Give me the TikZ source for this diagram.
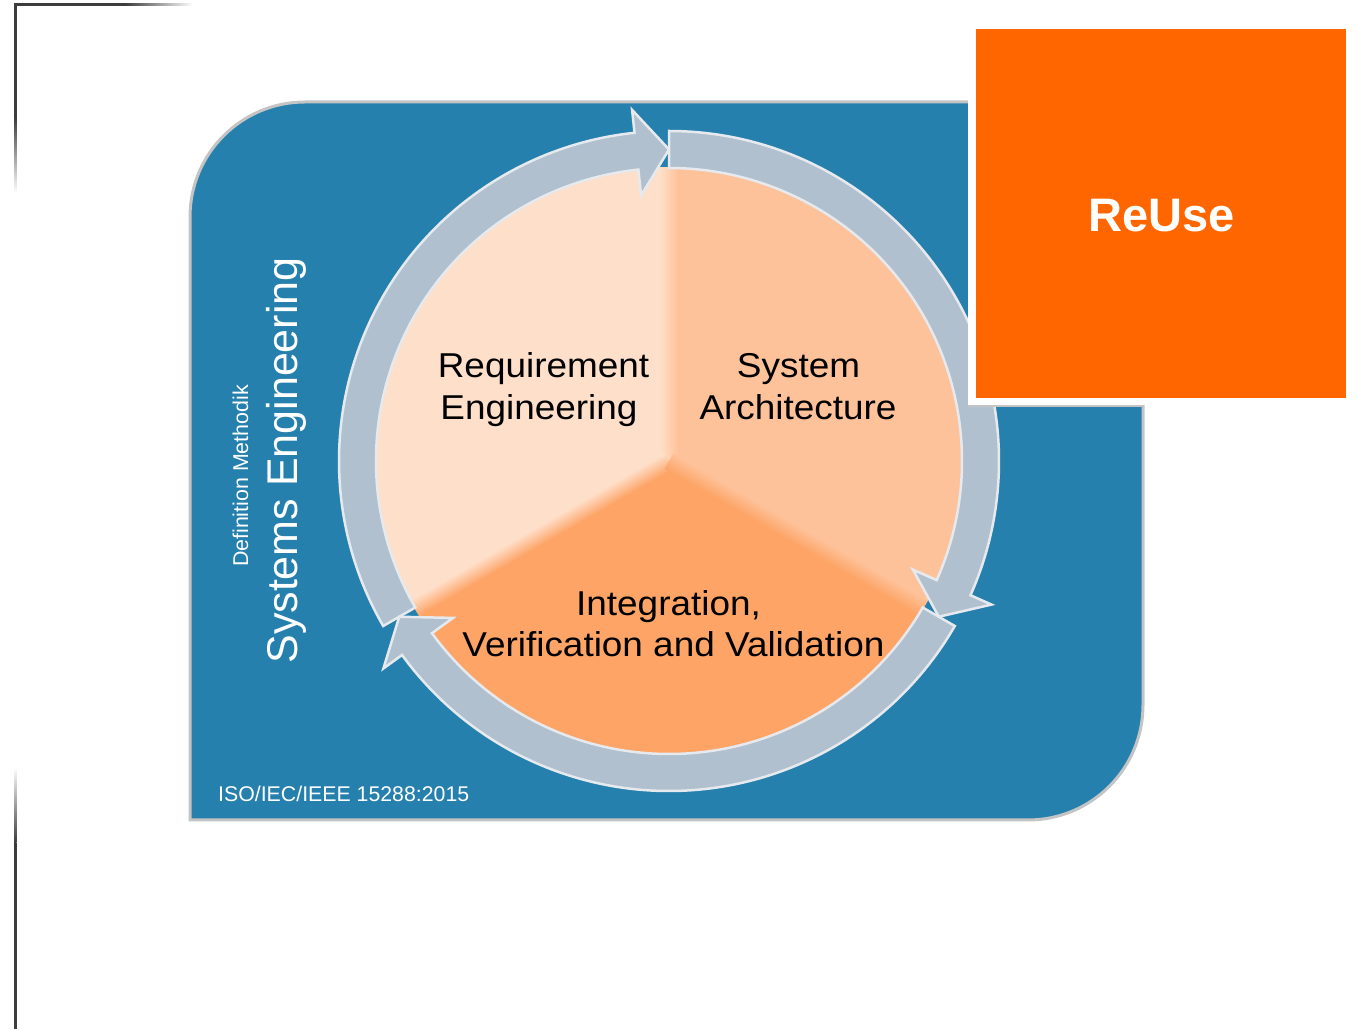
\documentclass[tikz,border=0pt]{standalone}
\usepackage{fontspec}
\setmainfont{Liberation Sans}
\newfontfamily\piefont[FakeStretch=1.07]{Liberation Sans}
\usetikzlibrary{calc}
\definecolor{panelblue}{RGB}{38,128,174}
\definecolor{panelgray}{RGB}{196,196,196}
\definecolor{ringC}{RGB}{176,192,207}
\definecolor{ringEdge}{RGB}{230,233,237}
\definecolor{reC}{RGB}{254,223,201}
\definecolor{saC}{RGB}{254,194,154}
\definecolor{ivC}{RGB}{253,164,102}
\definecolor{reuseC}{RGB}{255,102,0}
\definecolor{frameC}{RGB}{60,60,60}
\begin{document}
\begin{tikzpicture}[x=1pt,y=1pt,
  ringarrow/.style={fill=ringC, draw=ringEdge, line width=2.5pt, line join=miter},
  pielabel/.style={font=\piefont\fontsize{34.5}{41}\selectfont, text=black, inner sep=0pt, anchor=base},
  whitetext/.style={text=white, inner sep=0pt}]
\useasboundingbox (0,0) rectangle (1358,1029);
\fill[white] (0,0) rectangle (1358,1029);

% frame lines
\fill[frameC] (14,1023) rectangle (125,1025.5);
\shade[left color=frameC, right color=white] (125,1023) rectangle (193,1025.5);
\fill[frameC] (14,1025.5) rectangle (16.5,912);
\shade[top color=frameC, bottom color=white] (14,912) rectangle (16.5,836);
\fill[frameC] (14,0) rectangle (16.5,186);
\shade[top color=white, bottom color=frameC] (14,262) rectangle (16.5,186);

% panel
\filldraw[fill=panelblue, draw=panelgray, line width=3pt]
  (190,209) -- (190,812) arc[start angle=180,end angle=90,radius=115]
  -- (1143,927) -- (1143,324) arc[start angle=0,end angle=-90,radius=115] -- cycle;

% pie
\coordinate (O) at (669,568);
\fill[reC] (O) -- ++(90:294) arc[start angle=90,end angle=210,radius=294] -- cycle;
\fill[saC] (O) -- ++(-30:294) arc[start angle=-30,end angle=90,radius=294] -- cycle;
\fill[ivC] (O) -- ++(210:294) arc[start angle=210,end angle=330,radius=294] -- cycle;
\foreach \ang/\ccw/\cw in {90/reC/saC, 210/ivC/reC, 330/saC/ivC} {
  \begin{scope}[transform canvas={shift={(669,568)},rotate=\ang}]
    \clip (0,0) circle[radius=294];
    \shade[top color=\ccw, bottom color=\cw] (0,-9) rectangle (300,9);
  \end{scope}
}

% ring arrows
\foreach \a/\b in {210/90, 90/-30, -30/-150} {
  \pgfmathsetmacro\c{\b+6}
  \filldraw[ringarrow] ($(O)+(\a:330)$) arc[start angle=\a,end angle=\c,radius=330]
    -- ($(O)+(\c:353)$) -- ($(O)+(\b:311.5)$) -- ($(O)+(\c:267)$)
    -- ($(O)+(\c:293)$) arc[start angle=\c,end angle=\a,radius=293] -- cycle;
}

% pie labels
\node[pielabel] (re1) at (543.5,651) {Requirement};
\node[pielabel] (re2) at (539,609) {Engineering};
\node[pielabel] (sa1) at (798.5,651) {System};
\node[pielabel] (sa2) at (798,609) {Architecture};
\node[pielabel] (iv1) at (668.5,413) {Integration,};
\node[pielabel] (iv2) at (673.5,372) {Verification and Validation};

% panel texts
\node[whitetext, rotate=90, anchor=base, font=\fontsize{43}{50}\selectfont] (se) at (297,568.5) {Systems Engineering};
\node[whitetext, rotate=90, anchor=base, font=\fontsize{21.4}{26}\selectfont] (dm) at (248,553) {Definition Methodik};
\node[whitetext, anchor=base west, font=\fontsize{21.3}{26}\selectfont] (iso) at (218,227) {ISO/IEC/IEEE 15288:2015};

% ReUse box
\fill[white] (968,624) rectangle (1358,1029);
\draw[panelgray, line width=1.5pt] (968,623) -- (1143,623);
\fill[reuseC] (976,631) rectangle (1346,1000);
\node[whitetext, anchor=base, font=\bfseries\fontsize{47}{56}\selectfont] (reuse) at (1161.5,797) {ReUse};
\end{tikzpicture}
\end{document}
